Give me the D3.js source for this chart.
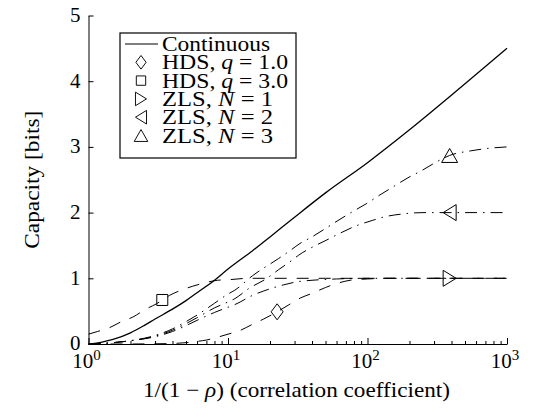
<!DOCTYPE html>
<html>
<head>
<meta charset="utf-8">
<script src="https://cdn.jsdelivr.net/npm/d3@7/dist/d3.min.js"></script>
<style>
  html, body { margin: 0; padding: 0; background: #fff; }
  svg { display: block; }
  text { font-family: "Liberation Serif", "Times New Roman", serif; fill: #000; }
</style>
</head>
<body>
<svg id="chart" width="537" height="409"></svg>
<script>
// ---- data ----
const continuousX = [1, 1.25, 1.5, 2, 2.5, 3, 4, 5, 6, 8, 10, 15, 20, 30, 50, 100, 200, 500, 1000];
const continuousY = [0, 0.03, 0.07, 0.17, 0.28, 0.38, 0.53, 0.66, 0.78, 0.97, 1.14, 1.42, 1.63, 1.93, 2.3, 2.76, 3.26, 3.96, 4.5];

const hdsQ1X = [1, 2, 3, 4, 5, 6, 7, 8, 10, 12, 15, 18, 22.5, 27, 33, 40, 50, 60, 75, 100, 150, 1000];
const hdsQ1Y = [0, 0, 0.003, 0.008, 0.02, 0.04, 0.06, 0.09, 0.15, 0.2, 0.3, 0.38, 0.49, 0.59, 0.7, 0.77, 0.86, 0.92, 0.97, 0.99, 1.0, 1.0];

const hdsQ3X = [1, 1.16, 1.42, 1.72, 2.08, 2.57, 3.06, 3.81, 4.63, 5.6, 6.8, 8.4, 10.3, 14, 20, 50, 100, 1000];
const hdsQ3Y = [0.15, 0.19, 0.25, 0.34, 0.41, 0.53, 0.61, 0.74, 0.82, 0.88, 0.93, 0.97, 0.98, 1.0, 1.0, 1.0, 1.0, 1.0];

const zlsN1X = [1, 1.5, 2, 3, 4, 5, 6, 8, 10, 11.2, 15, 20, 25, 32, 40, 60, 100, 1000];
const zlsN1Y = [0, 0.02, 0.05, 0.11, 0.19, 0.28, 0.36, 0.48, 0.56, 0.6, 0.74, 0.84, 0.9, 0.95, 0.97, 0.99, 1.0, 1.0];

const zlsN2X = [1, 1.5, 2, 3, 4, 5, 6, 8, 10, 11.2, 14, 19, 23, 29, 32, 40.7, 49.6, 65.6, 81, 108, 129, 180, 250, 1000];
const zlsN2Y = [0, 0.02, 0.05, 0.12, 0.21, 0.31, 0.4, 0.55, 0.64, 0.69, 0.84, 1.0, 1.13, 1.28, 1.35, 1.48, 1.57, 1.7, 1.79, 1.88, 1.93, 1.98, 2.0, 2.0];

const zlsN3X = [1, 1.5, 2, 3, 4, 5, 6, 8, 10, 11.2, 15, 23, 27.8, 32.8, 40, 51, 61.5, 79, 99, 123, 152, 195, 245, 300, 388, 550, 750, 1000];
const zlsN3Y = [0, 0.02, 0.05, 0.13, 0.23, 0.34, 0.44, 0.62, 0.76, 0.82, 1.04, 1.3, 1.42, 1.53, 1.63, 1.77, 1.88, 2.02, 2.14, 2.27, 2.39, 2.53, 2.64, 2.75, 2.87, 2.94, 2.98, 3.0];

// single markers placed on the curves
const markerNames = ["diamond", "square", "triRight", "triLeft", "triUp"];
const markerX = [22.5, 3.38, 388, 388, 388];
const markerY = [0.49, 0.67, 1.0, 2.0, 2.87];

const legendLabels = [
  ["Continuous"],
  ["HDS, ", ["q", true], " = 1.0"],
  ["HDS, ", ["q", true], " = 3.0"],
  ["ZLS, ", ["N", true], " = 1"],
  ["ZLS, ", ["N", true], " = 2"],
  ["ZLS, ", ["N", true], " = 3"]
];
const legendKinds = ["line", "diamond", "square", "triRight", "triLeft", "triUp"];
const legendTextWidths = [108, 126, 126, 111, 111, 111];

const xMajorTicks = [1, 10, 100, 1000];
const xTickExponents = ["0", "1", "2", "3"];
const xMinorTicks = [2,3,4,5,6,7,8,9,20,30,40,50,60,70,80,90,200,300,400,500,600,700,800,900];
const yTicks = [0, 1, 2, 3, 4, 5];

// ---- layout ----
const svg = d3.select("#chart");
const padL = 88.5, padR = 507, padT = 15.5, padB = 344;
const x = d3.scaleLog().domain([1, 1000]).range([padL, padR]);
const y = d3.scaleLinear().domain([0, 5]).range([padB, padT]);

const DASH = "12,10";
const DASHDOT = "12,6,1.5,6";

const line = d3.line().x(d => x(d[0])).y(d => y(d[1])).curve(d3.curveMonotoneX);
const zip = (a, b) => a.map((v, i) => [v, b[i]]);

const series = [
  { xs: continuousX, ys: continuousY, dash: null, w: 1.3 },
  { xs: hdsQ1X, ys: hdsQ1Y, dash: DASH, w: 1.0 },
  { xs: hdsQ3X, ys: hdsQ3Y, dash: DASH, w: 1.0 },
  { xs: zlsN1X, ys: zlsN1Y, dash: DASHDOT, w: 1.0 },
  { xs: zlsN2X, ys: zlsN2Y, dash: DASHDOT, w: 1.0 },
  { xs: zlsN3X, ys: zlsN3Y, dash: DASHDOT, w: 1.0 }
];

const plot = svg.append("g");
series.forEach(s => {
  plot.append("path")
    .attr("d", line(zip(s.xs, s.ys)))
    .attr("fill", "none")
    .attr("stroke", "#000")
    .attr("stroke-width", s.w)
    .attr("stroke-dasharray", s.dash);
});

// marker shapes
function markerPath(kind) {
  switch (kind) {
    case "diamond": return "M0,-8 L6,0 L0,8 L-6,0 Z";
    case "square": return "M-5.5,-5.5 L5.5,-5.5 L5.5,5.5 L-5.5,5.5 Z";
    case "triRight": return "M-6.5,-8 L6.5,0 L-6.5,8 Z";
    case "triLeft": return "M6.5,-8 L-6.5,0 L6.5,8 Z";
    case "triUp": return "M0,-7 L8,7 L-8,7 Z";
  }
}
markerNames.forEach((k, i) => {
  plot.append("path")
    .attr("d", markerPath(k))
    .attr("transform", `translate(${x(markerX[i])},${y(markerY[i])})`)
    .attr("fill", "none")
    .attr("stroke", "#000")
    .attr("stroke-width", 1);
});

// ---- axes ----
const FS = 21;
const xAxis = svg.append("g").attr("transform", `translate(0,${padB})`)
  .call(d3.axisBottom(x).tickValues(xMajorTicks).tickSize(-6).tickSizeOuter(0).tickFormat(""));
const xMinor = svg.append("g").attr("transform", `translate(0,${padB})`)
  .call(d3.axisBottom(x).tickValues(xMinorTicks).tickSize(-3).tickSizeOuter(0).tickFormat(""));
xMinor.select(".domain").remove();
[xAxis, xMinor].forEach(g => {
  g.selectAll("path,line").attr("stroke", "#000").attr("stroke-width", 1);
});

xMajorTicks.forEach((v, i) => {
  const t = svg.append("text")
    .attr("x", x(v) - 2)
    .attr("y", 368)
    .attr("text-anchor", "middle")
    .style("font-size", FS + "px");
  t.append("tspan").text("10");
  t.append("tspan").attr("dy", -8.5).style("font-size", "15px").text(xTickExponents[i]);
});

const yAxis = svg.append("g").attr("transform", `translate(${padL},0)`)
  .call(d3.axisLeft(y).tickValues(yTicks).tickSize(-5).tickSizeOuter(0).tickPadding(8).tickFormat(d3.format("d")));
yAxis.selectAll("path,line").attr("stroke", "#000").attr("stroke-width", 1);
yAxis.selectAll("text").style("font-size", FS + "px").style("font-family", "Liberation Serif, serif").attr("dy", "0.28em");

// axis titles
const xl = svg.append("text")
  .attr("x", 296.5)
  .attr("y", 397)
  .attr("text-anchor", "middle")
  .attr("textLength", 307)
  .attr("lengthAdjust", "spacingAndGlyphs")
  .style("font-size", FS + "px");
xl.append("tspan").text("1/(1 \u2212 ");
xl.append("tspan").style("font-style", "italic").text("\u03C1");
xl.append("tspan").text(") (correlation coefficient)");

svg.append("text")
  .attr("transform", `translate(39,${(padT + padB) / 2}) rotate(-90)`)
  .attr("text-anchor", "middle")
  .attr("textLength", 138)
  .attr("lengthAdjust", "spacingAndGlyphs")
  .style("font-size", FS + "px")
  .text("Capacity [bits]");

// ---- legend ----
const lg = svg.append("g");
lg.append("rect").attr("x", 120).attr("y", 33).attr("width", 176).attr("height", 125)
  .attr("fill", "#fff").attr("stroke", "#000").attr("stroke-width", 1.2);
legendLabels.forEach((parts, i) => {
  const cy = 44 + i * 18.3;
  const kind = legendKinds[i];
  if (kind === "line") {
    lg.append("line").attr("x1", 125).attr("x2", 158).attr("y1", cy).attr("y2", cy)
      .attr("stroke", "#000").attr("stroke-width", 1.2);
  } else {
    lg.append("path").attr("d", markerPath(kind))
      .attr("transform", `translate(141,${cy}) scale(0.85)`)
      .attr("fill", "none").attr("stroke", "#000").attr("stroke-width", 1.1);
  }
  const t = lg.append("text").attr("x", 162).attr("y", cy + 7)
    .attr("textLength", legendTextWidths[i])
    .attr("lengthAdjust", "spacingAndGlyphs")
    .style("font-size", FS + "px");
  parts.forEach(p => {
    if (Array.isArray(p)) t.append("tspan").style("font-style", "italic").text(p[0]);
    else t.append("tspan").text(p);
  });
});
</script>
</body>
</html>
